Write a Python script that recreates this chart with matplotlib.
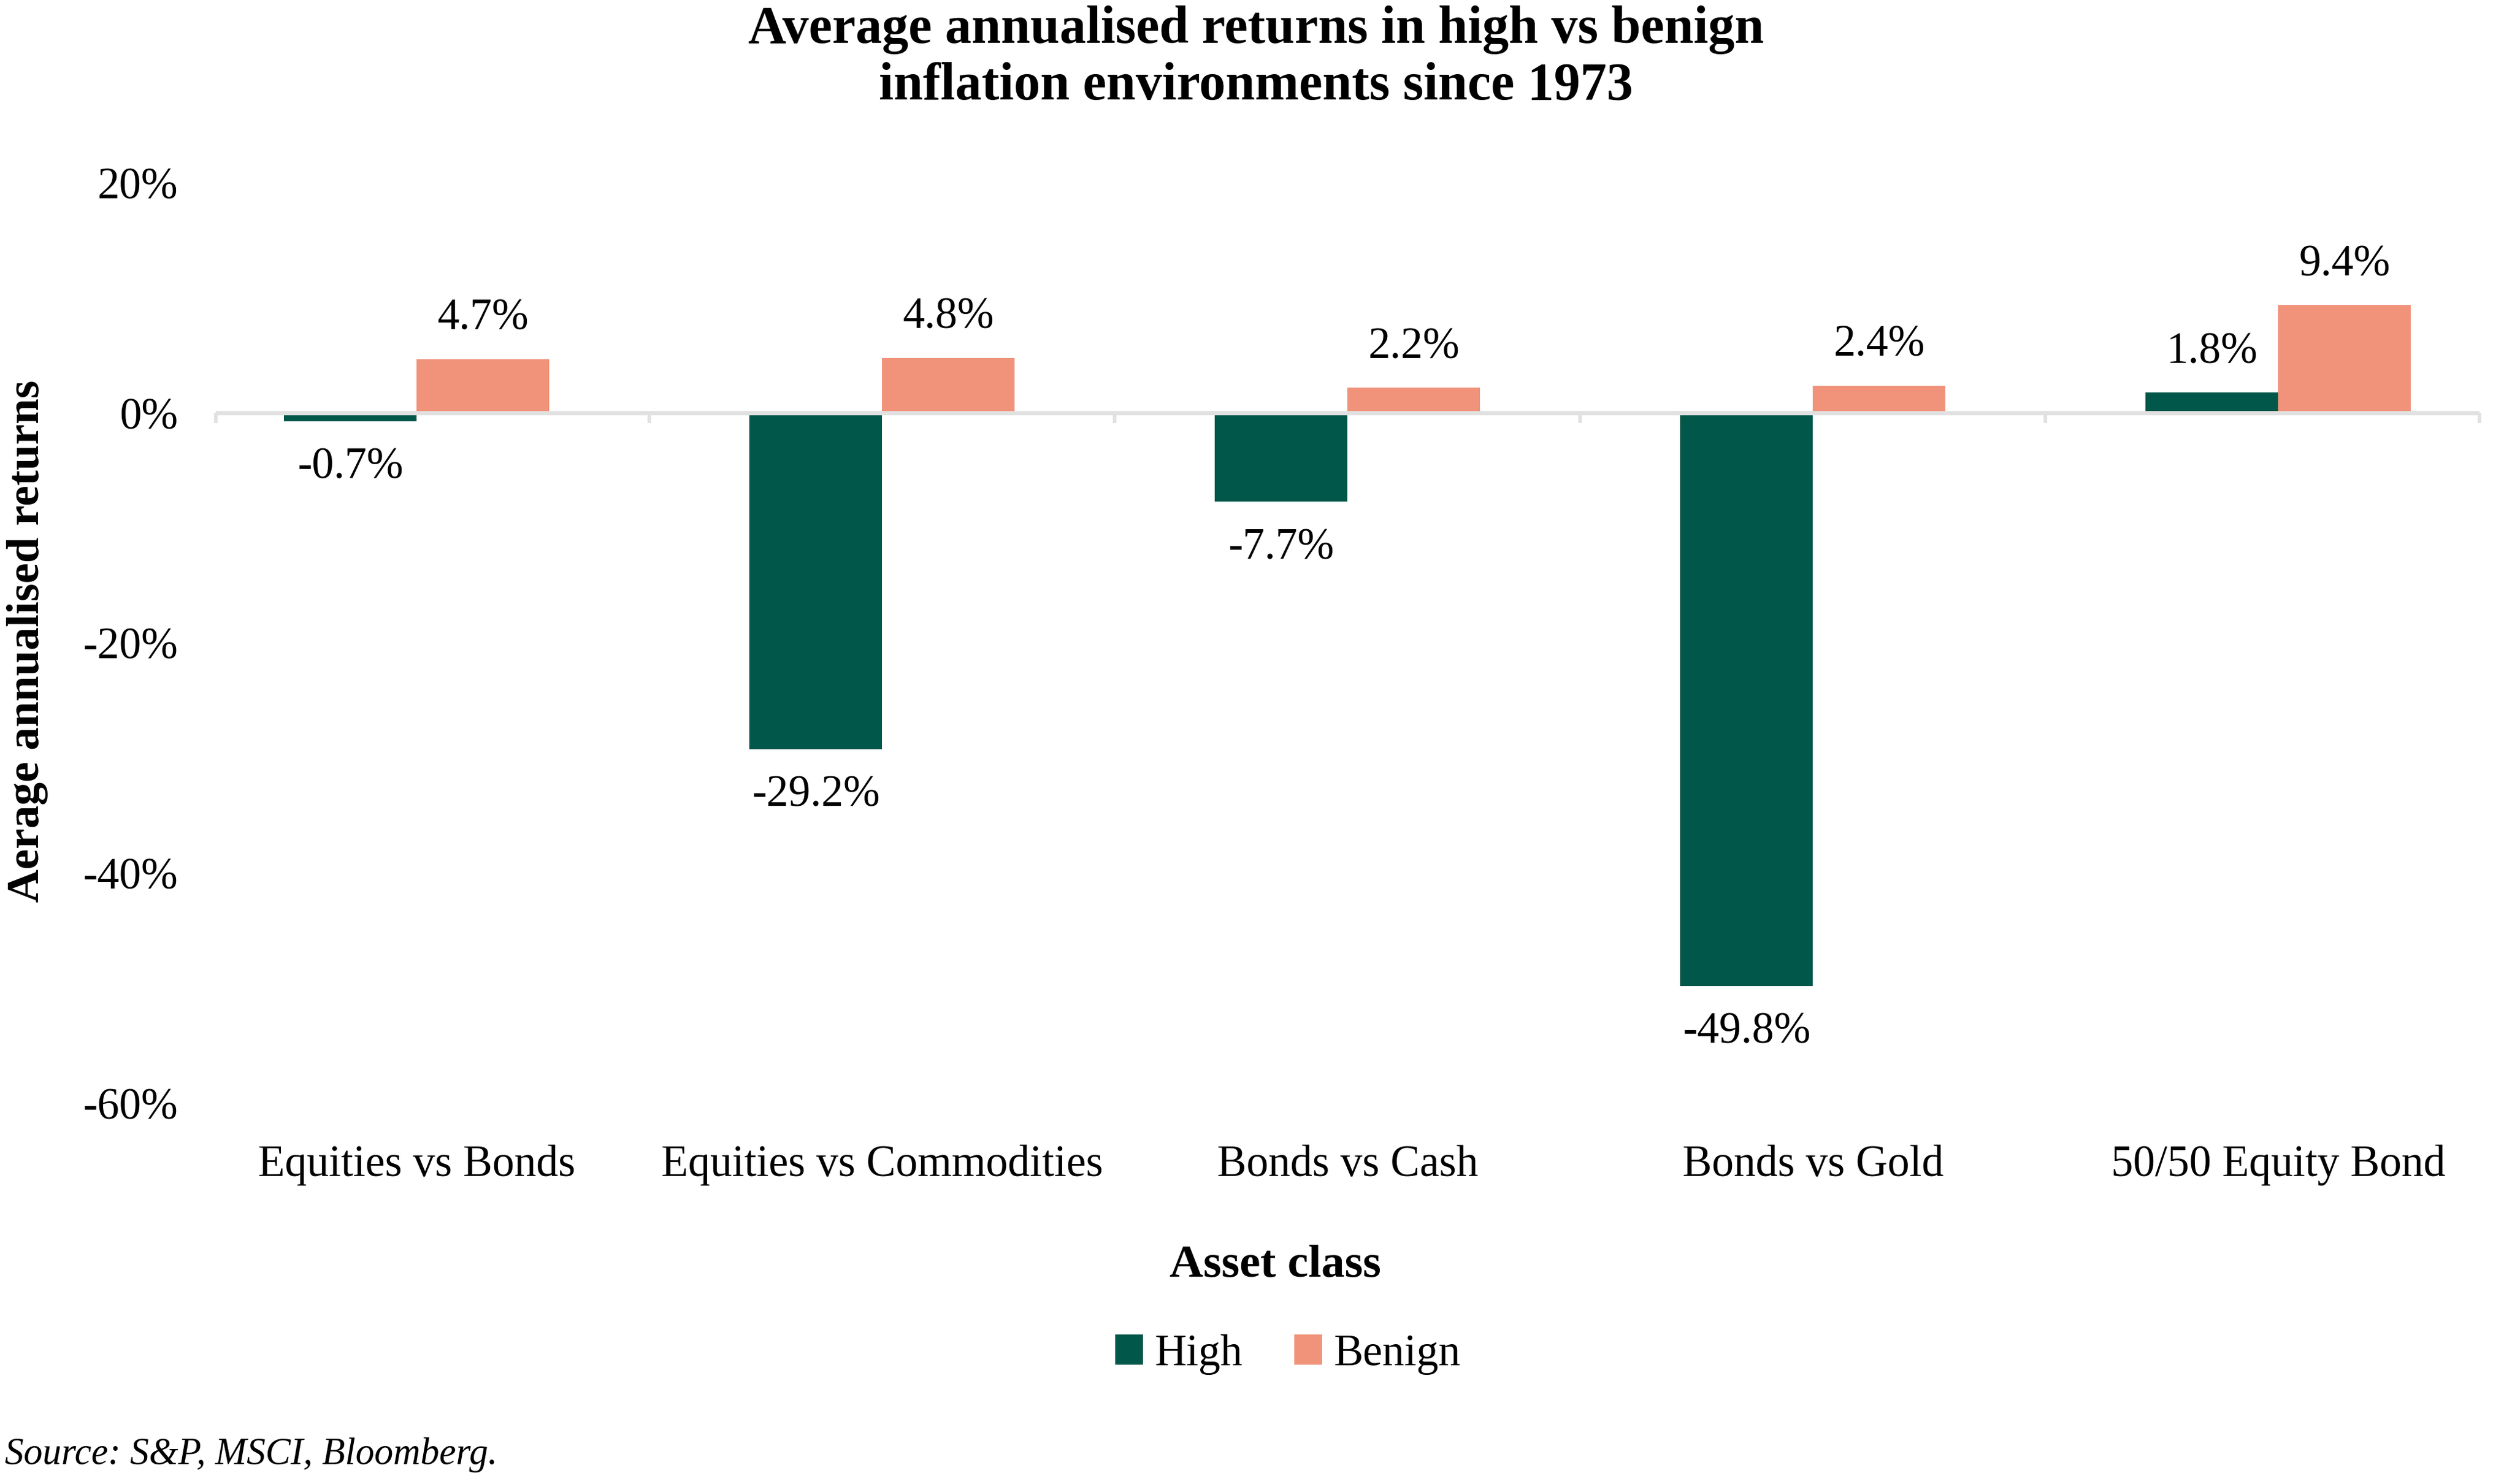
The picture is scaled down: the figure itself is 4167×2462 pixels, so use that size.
import numpy as np
import matplotlib
matplotlib.use("Agg")
import matplotlib.pyplot as plt
from matplotlib.patches import Patch

categories = [
    "Equities vs Bonds",
    "Equities vs Commodities",
    "Bonds vs Cash",
    "Bonds vs Gold",
    "50/50 Equity Bond",
]
high = [-0.7, -29.2, -7.7, -49.8, 1.8]
benign = [4.7, 4.8, 2.2, 2.4, 9.4]
y_ticks = [20, 0, -20, -40, -60]

GREEN = "#00574A"
SALMON = "#F0937A"
GRID = "#E1E1E1"

plt.rcParams["font.family"] = ["Liberation Serif", "DejaVu Serif"]

fig = plt.figure(figsize=(4167 / 300, 2462 / 300), dpi=300)
ax = fig.add_axes([0.0858, 0.2566, 0.987 - 0.0858, 0.8766 - 0.2566])

x = np.arange(len(categories))
w = 0.285
ax.bar(x - w / 2, high, w, color=GREEN, zorder=2)
ax.bar(x + w / 2, benign, w, color=SALMON, zorder=2)

# zero line with separators between categories
ax.axhline(0, color=GRID, lw=1.7, zorder=3)
bounds = [-0.432, 0.5, 1.5, 2.5, 3.5, 4.432]
ax.plot(bounds, [0] * len(bounds), linestyle="none", marker=3,
        markersize=4, mew=1.4, color=GRID, zorder=3, clip_on=False)

for xi, v in zip(x - w / 2, high):
    off = 16 if v >= 0 else -18.5
    ax.annotate(f"{v:.1f}%", (xi, v), xytext=(0, off), textcoords="offset points",
                ha="center", va="center", fontsize=17.5)
for xi, v in zip(x + w / 2, benign):
    ax.annotate(f"{v:.1f}%", (xi, v), xytext=(0, 16), textcoords="offset points",
                ha="center", va="center", fontsize=17.5)

ax.set_xlim(-0.432, 4.432)
ax.set_ylim(-60, 20)
ax.set_yticks(y_ticks)
ax.set_yticklabels([f"{t}%" for t in y_ticks])
ax.set_xticks(x)
ax.set_xticklabels(categories)
ax.tick_params(axis="y", length=0, pad=15, labelsize=17.5)
ax.tick_params(axis="x", length=0, pad=16.5, labelsize=17.5)
for s in ax.spines.values():
    s.set_visible(False)

fig.text(0.5, 0.961, "Average annualised returns in high vs benign\ninflation environments since 1973",
         ha="center", va="center", fontsize=21, fontweight="bold", linespacing=1.2)
fig.text(0.011, 0.568, "Aerage annualised returns", rotation=90, ha="center", va="center",
         fontsize=18.4, fontweight="bold")
fig.text(0.5076, 0.1474, "Asset class", ha="center", va="center", fontsize=18.6, fontweight="bold")

handles = [Patch(color=GREEN, label="High"), Patch(color=SALMON, label="Benign")]
fig.legend(handles=handles, loc="center", bbox_to_anchor=(0.513, 0.0873), ncol=2,
           frameon=False, fontsize=17.5, handlelength=0.58, handleheight=0.58,
           handletextpad=0.3, columnspacing=1.2)

fig.text(0.002, 0.0197, "Source: S&P, MSCI, Bloomberg.", ha="left", va="center",
         fontsize=15, style="italic")

fig.savefig("out.png", dpi=300)
